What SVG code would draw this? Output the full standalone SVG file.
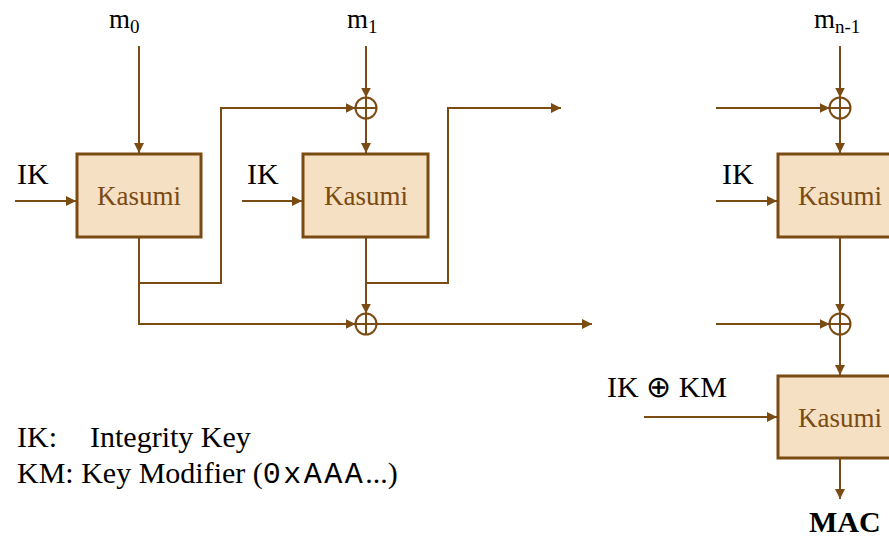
<svg xmlns="http://www.w3.org/2000/svg" width="889" height="539" viewBox="0 0 889 539">
<style>
.box{fill:#f6e0c3;stroke:#7a4b13;stroke-width:3}
text{font-family:'Liberation Serif','Times New Roman',serif}
.kt{font-size:27px;fill:#7a4b13;text-anchor:middle}
.lbl{font-size:30px;fill:#000}
.m{font-size:27px;fill:#000}
.sub{font-size:19px}
.mono{font-family:'Liberation Mono','Courier New',monospace;fill:#000}
.con{fill:none;stroke:#7a4b13;stroke-width:2}
.xor{fill:#fff;stroke:#7a4b13;stroke-width:2}
.mac{font-size:30px;font-weight:bold;fill:#000}
</style>
<defs>
<marker id="ah" markerUnits="userSpaceOnUse" markerWidth="11" markerHeight="11" refX="10" refY="5" orient="auto"><path d="M0,0 L10,5 L0,10 z" fill="#7a4b13"/></marker>
</defs>
<g id="connectors">
<path class="con" marker-end="url(#ah)" d="M139,46 V153"/>
<path class="con" marker-end="url(#ah)" d="M15,201 H76"/>
<path class="con" marker-end="url(#ah)" d="M139,237 V324 H355.5"/>
<path class="con" marker-end="url(#ah)" d="M139,283 H221 V108 H355.5"/>
<path class="con" marker-end="url(#ah)" d="M366,46 V97.5"/>
<path class="con" marker-end="url(#ah)" d="M366,118.5 V153"/>
<path class="con" marker-end="url(#ah)" d="M242,201 H302"/>
<path class="con" marker-end="url(#ah)" d="M366,237 V313.5"/>
<path class="con" marker-end="url(#ah)" d="M366,283 H448 V108 H561"/>
<path class="con" marker-end="url(#ah)" d="M376.5,324 H592"/>
<path class="con" marker-end="url(#ah)" d="M716,108 H829.5"/>
<path class="con" marker-end="url(#ah)" d="M840,46 V97.5"/>
<path class="con" marker-end="url(#ah)" d="M840,118.5 V153"/>
<path class="con" marker-end="url(#ah)" d="M716,201 H777"/>
<path class="con" marker-end="url(#ah)" d="M840,237 V313.5"/>
<path class="con" marker-end="url(#ah)" d="M716,324 H829.5"/>
<path class="con" marker-end="url(#ah)" d="M840,334.5 V375"/>
<path class="con" marker-end="url(#ah)" d="M644,417 H777"/>
<path class="con" marker-end="url(#ah)" d="M840,458 V499"/>
</g>
<g id="kasumi1"><rect class="box" x="77" y="154" width="124" height="83"/><text class="kt" x="139" y="205">Kasumi</text></g>
<g id="kasumi2"><rect class="box" x="303" y="154" width="125" height="83"/><text class="kt" x="366" y="205">Kasumi</text></g>
<g id="kasumi3"><rect class="box" x="778" y="154" width="125" height="83"/><text class="kt" x="840" y="205">Kasumi</text></g>
<g id="kasumi4"><rect class="box" x="778" y="376" width="125" height="82"/><text class="kt" x="840" y="427">Kasumi</text></g>
<g id="xor1"><circle class="xor" cx="366" cy="108" r="10.5"/><path class="con" d="M355.5,108 H376.5 M366,97.5 V118.5"/></g>
<g id="xor2"><circle class="xor" cx="366" cy="324" r="10.5"/><path class="con" d="M355.5,324 H376.5 M366,313.5 V334.5"/></g>
<g id="xor3"><circle class="xor" cx="840" cy="108" r="10.5"/><path class="con" d="M829.5,108 H850.5 M840,97.5 V118.5"/></g>
<g id="xor4"><circle class="xor" cx="840" cy="324" r="10.5"/><path class="con" d="M829.5,324 H850.5 M840,313.5 V334.5"/></g>
<g id="labels">
<text class="m" x="109" y="28">m<tspan class="sub" dy="5">0</tspan></text>
<text class="m" x="347" y="28">m<tspan class="sub" dy="5">1</tspan></text>
<text class="m" x="814" y="28">m<tspan class="sub" dy="5">n-1</tspan></text>
<text class="lbl" x="17" y="184">IK</text>
<text class="lbl" x="247" y="184">IK</text>
<text class="lbl" x="722" y="184">IK</text>
<text class="lbl" x="607" y="397">IK ⊕ KM</text>
<text class="lbl" x="17" y="447">IK:<tspan x="90">Integrity Key</tspan></text>
<text class="lbl" x="17" y="483">KM: Key Modifier (<tspan class="mono" textLength="100">0xAAA</tspan>...)</text>
<text class="mac" x="809" y="532">MAC</text>
</g>
</svg>
